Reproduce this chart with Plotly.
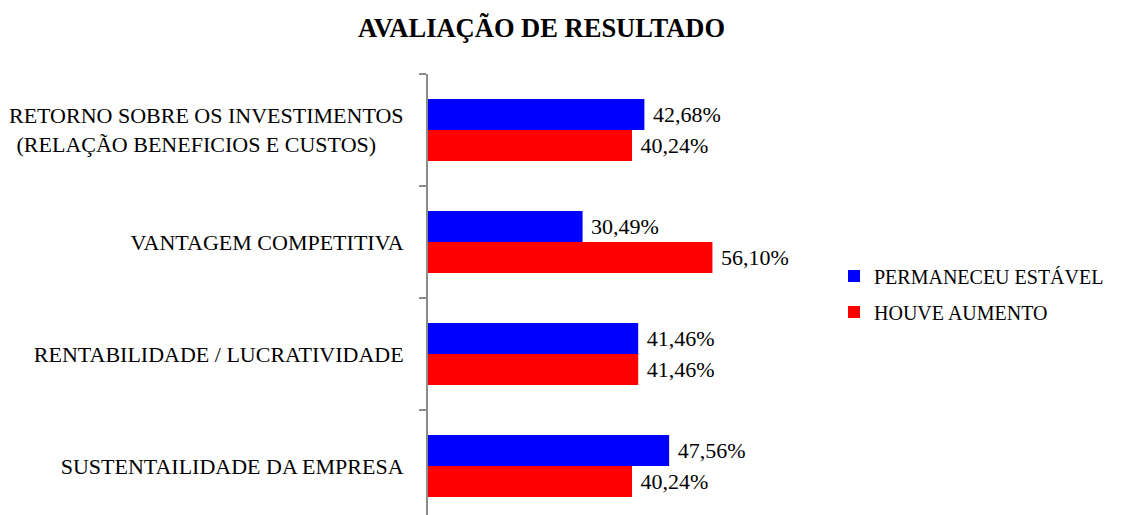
import plotly.graph_objects as go

categories = [
    "SUSTENTAILIDADE DA EMPRESA",
    "RENTABILIDADE / LUCRATIVIDADE",
    "VANTAGEM COMPETITIVA",
    "RETORNO SOBRE OS INVESTIMENTOS<br>(RELAÇÃO BENEFICIOS E CUSTOS)\u00a0\u00a0\u00a0\u00a0\u00a0",
]
permaneceu_estavel = [47.56, 41.46, 30.49, 42.68]
houve_aumento = [40.24, 41.46, 56.10, 40.24]
value_labels_estavel = ["47,56%", "41,46%", "30,49%", "42,68%"]
value_labels_aumento = ["40,24%", "41,46%", "56,10%", "40,24%"]

FONT = "Liberation Serif, Times New Roman, serif"
W, H = 1123, 507  # page body has an 8px margin

fig = go.Figure()
fig.add_trace(go.Bar(
    y=categories, x=houve_aumento, orientation="h", name="HOUVE AUMENTO",
    marker=dict(color="#FF0000", line=dict(width=0)),
    text=["\u00a0" + t for t in value_labels_aumento], textposition="outside",
    textfont=dict(family=FONT, size=22, color="black"), cliponaxis=False,
    legend="legend2",
))
fig.add_trace(go.Bar(
    y=categories, x=permaneceu_estavel, orientation="h", name="PERMANECEU ESTÁVEL",
    marker=dict(color="#0000FF", line=dict(width=0)),
    text=["\u00a0" + t for t in value_labels_estavel], textposition="outside",
    textfont=dict(family=FONT, size=22, color="black"), cliponaxis=False,
    legend="legend",
))

fig.update_layout(
    width=W, height=H,
    margin=dict(l=420, r=131, t=66, b=0, autoexpand=False),
    paper_bgcolor="white", plot_bgcolor="white",
    barmode="group", bargap=0.446, bargroupgap=0,
    font=dict(family=FONT, size=22, color="black"),
    title=dict(text="<b>AVALIAÇÃO DE RESULTADO</b>", x=533.5 / W, xref="container",
               y=1 - 20 / H, yref="container", xanchor="center", yanchor="middle",
               font=dict(family=FONT, size=26.5, color="black")),
    xaxis=dict(visible=False, range=[0, 572 / 5.07]),
    yaxis=dict(
        type="category", range=[-0.4375, 3.5], automargin=False,
        showline=True, linecolor="#8c8c8c", linewidth=2,
        ticks="outside", tickson="boundaries", ticklen=7, tickcolor="#8c8c8c", tickwidth=2,
        ticklabelstandoff=18, showgrid=False, zeroline=False,
        tickfont=dict(family=FONT, size=22, color="black"),
    ),
    showlegend=True,
    legend=dict(xref="container", yref="container", x=826 / W, y=1 - 268 / H,
                xanchor="left", yanchor="middle", bgcolor="rgba(0,0,0,0)",
                font=dict(family=FONT, size=20, color="black")),
    legend2=dict(xref="container", yref="container", x=826 / W, y=1 - 304 / H,
                 xanchor="left", yanchor="middle", bgcolor="rgba(0,0,0,0)",
                 font=dict(family=FONT, size=20, color="black")),
)

fig.write_html("out.html")
